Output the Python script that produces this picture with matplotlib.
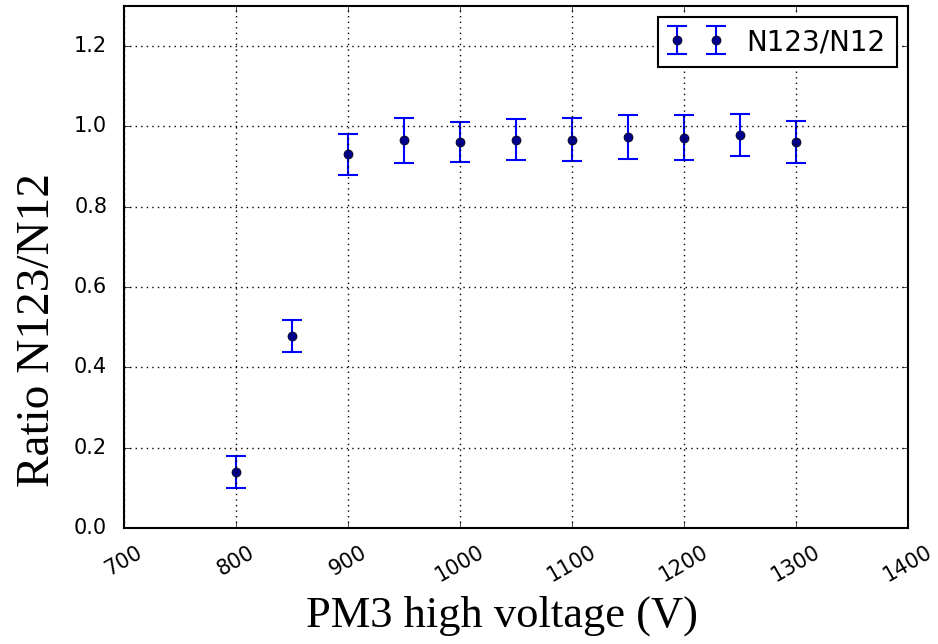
import numpy as np
import matplotlib
matplotlib.use('Agg')
import matplotlib.pyplot as plt

plt.style.use('classic')

# Data
voltage = [800, 850, 900, 950, 1000, 1050, 1100, 1150, 1200, 1250, 1300]
ratio = [0.140, 0.478, 0.930, 0.965, 0.962, 0.967, 0.967, 0.973, 0.972, 0.978, 0.961]
ratio_err = [0.040, 0.040, 0.051, 0.056, 0.050, 0.050, 0.053, 0.054, 0.057, 0.053, 0.052]

fig = plt.figure(figsize=(9.38, 6.44), dpi=100, facecolor='white')
ax = fig.add_axes([0.132, 0.180, 0.836, 0.811])

ax.errorbar(voltage, ratio, yerr=ratio_err, fmt='o', color='blue', ecolor='blue',
            mfc='#00008b', mec='black', ms=6.5, elinewidth=1.5, capsize=7, capthick=1.5,
            label='N123/N12')

ax.set_xlim(700, 1400)
ax.set_ylim(0, 1.3)
ax.set_xticks(np.arange(700, 1401, 100))
ax.set_yticks(np.arange(0, 1.21, 0.2))
ax.grid(True, color='black', linestyle=':', linewidth=1)
ax.tick_params(labelsize=15)
ax.tick_params(axis='y', pad=12)
ax.tick_params(axis='x', pad=10)
for lab in ax.get_xticklabels():
    lab.set_rotation(30)
for sp in ax.spines.values():
    sp.set_linewidth(1.5)

ax.set_xlabel('PM3 high voltage (V)', family='Liberation Serif', fontsize=32)
ax.set_ylabel('Ratio N123/N12', family='Liberation Serif', fontsize=34)
ax.xaxis.label.set_va('center')
ax.yaxis.label.set_va('center')
ax.xaxis.set_label_coords(0.482, -0.167)
ax.yaxis.set_label_coords(-0.11, 0.379)

leg = ax.legend(loc='upper right', numpoints=2, fontsize=20, borderaxespad=0.4)
leg.get_frame().set_linewidth(1.5)

fig.savefig('out.png', dpi=100)
